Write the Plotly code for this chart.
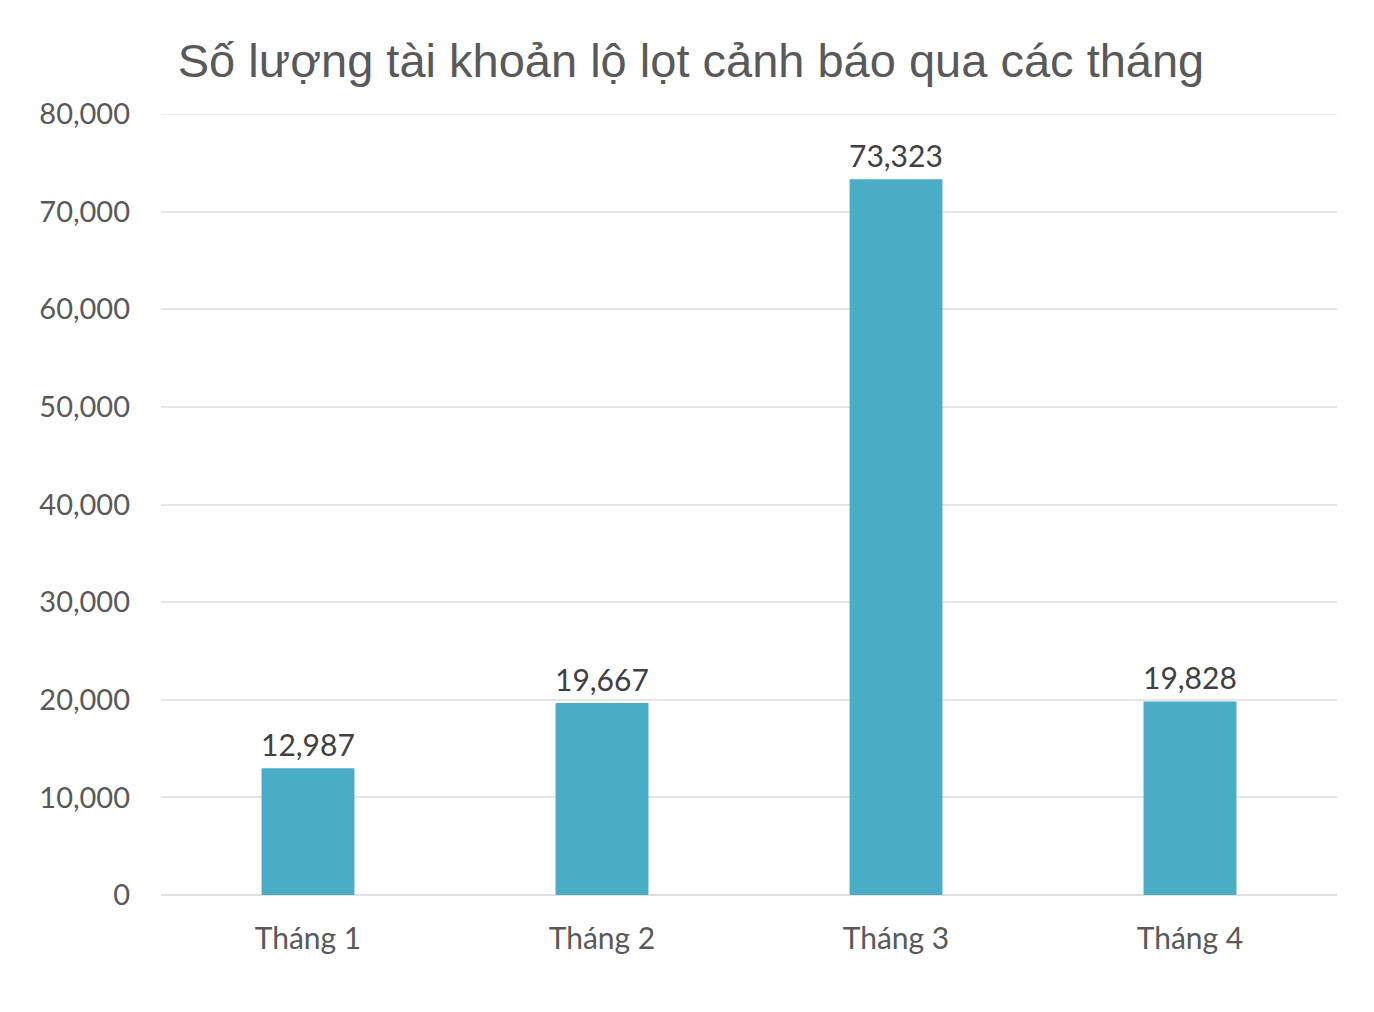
import plotly.graph_objects as go

categories = ["Tháng 1", "Tháng 2", "Tháng 3", "Tháng 4"]
values = [12987, 19667, 73323, 19828]
y_ticks = [0, 10000, 20000, 30000, 40000, 50000, 60000, 70000, 80000]
title_text = "Số lượng tài khoản lộ lọt cảnh báo qua các tháng"

fig = go.Figure(
    go.Bar(
        x=categories,
        y=values,
        marker=dict(color="#4BACC6", line=dict(width=0)),
        width=0.316,
        hoverinfo="x+y",
    )
)

for c, v in zip(categories, values):
    fig.add_annotation(
        x=c, y=v, text=f"{v:,}", showarrow=False,
        yanchor="bottom", yshift=4,
        font=dict(family="Lato", size=30, color="#404040"),
    )

# top gridline (Plotly hides the gridline lying on the plot edge)
fig.add_hline(y=y_ticks[-1], line=dict(color="#E6E6E6", width=1.5), layer="below")

fig.update_layout(
    width=1366,
    height=1004,
    paper_bgcolor="white",
    plot_bgcolor="white",
    margin=dict(l=153, r=37, t=106, b=117),
    title=dict(
        text=title_text,
        x=0.5,
        xanchor="center",
        y=1 - 53 / 1004,
        yanchor="middle",
        font=dict(family="Liberation Sans, Arial", size=47, color="#595959"),
    ),
    showlegend=False,
    xaxis=dict(
        tickfont=dict(family="Lato", size=30, color="#595959"),
        showline=False,
        showgrid=False,
        ticks="",
        ticklabelstandoff=23,
    ),
    yaxis=dict(
        range=[0, 80000],
        tickvals=y_ticks,
        tickformat=",d",
        tickfont=dict(family="Lato", size=29, color="#595959"),
        gridcolor="#E6E6E6",
        gridwidth=1.5,
        zeroline=True,
        zerolinecolor="#E0E0E0",
        zerolinewidth=1.5,
        showline=False,
        ticks="",
        ticklabelstandoff=30,
    ),
)

fig.write_html("out.html")
